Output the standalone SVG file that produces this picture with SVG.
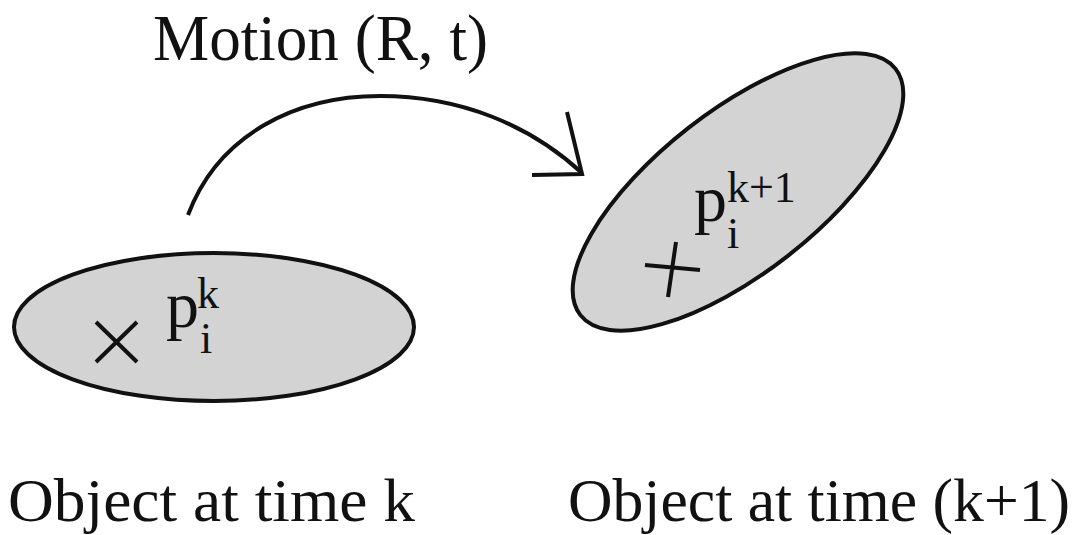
<svg xmlns="http://www.w3.org/2000/svg" width="1089" height="535" viewBox="0 0 1089 535">
<style>
  .blob { fill: #d3d3d3; stroke: #111; stroke-width: 4; }
  .mark { stroke: #111; stroke-width: 4; fill: none; stroke-linecap: butt; }
  .lbl { font-family: "Liberation Serif", "Times New Roman", serif; fill: #111; }
  .big { font-size: 66px; }
  .cap { font-size: 61px; }
  .sup { font-size: 44px; }
  .conn { stroke: #111; stroke-width: 4; fill: none; }
</style>
<rect width="1089" height="535" fill="#ffffff"/>
<g id="object-k">
  <ellipse class="blob" cx="214" cy="327" rx="200" ry="74"/>
  <path class="mark" d="M96,322 L137,362 M96,362 L137,322"/>
  <text class="lbl big" x="166" y="327">p</text>
  <text class="lbl sup" x="197" y="308">k</text>
  <text class="lbl sup" x="200" y="353">i</text>
</g>
<g id="object-k1">
  <ellipse class="blob" cx="738" cy="192" rx="200" ry="81" transform="rotate(-38 738 192)"/>
  <path class="mark" d="M645,265 L700,270 M676,242 L668,297"/>
  <text class="lbl big" x="694" y="221">p</text>
  <text class="lbl sup" x="727" y="202">k+1</text>
  <text class="lbl sup" x="727" y="248">i</text>
</g>
<g id="connectors">
  <path class="conn" d="M188,215 C218,135 295,96 380,96 C460,96 530,125 582,173"/>
  <path class="conn" d="M567,112 L582,174 L532,175"/>
</g>
<g id="labels">
  <text class="lbl big" x="153" y="60" textLength="335" lengthAdjust="spacingAndGlyphs">Motion (R, t)</text>
  <text class="lbl cap" x="8" y="521" textLength="407" lengthAdjust="spacingAndGlyphs">Object at time k</text>
  <text class="lbl cap" x="568" y="521" textLength="502" lengthAdjust="spacingAndGlyphs">Object at time (k+1)</text>
</g>
</svg>
